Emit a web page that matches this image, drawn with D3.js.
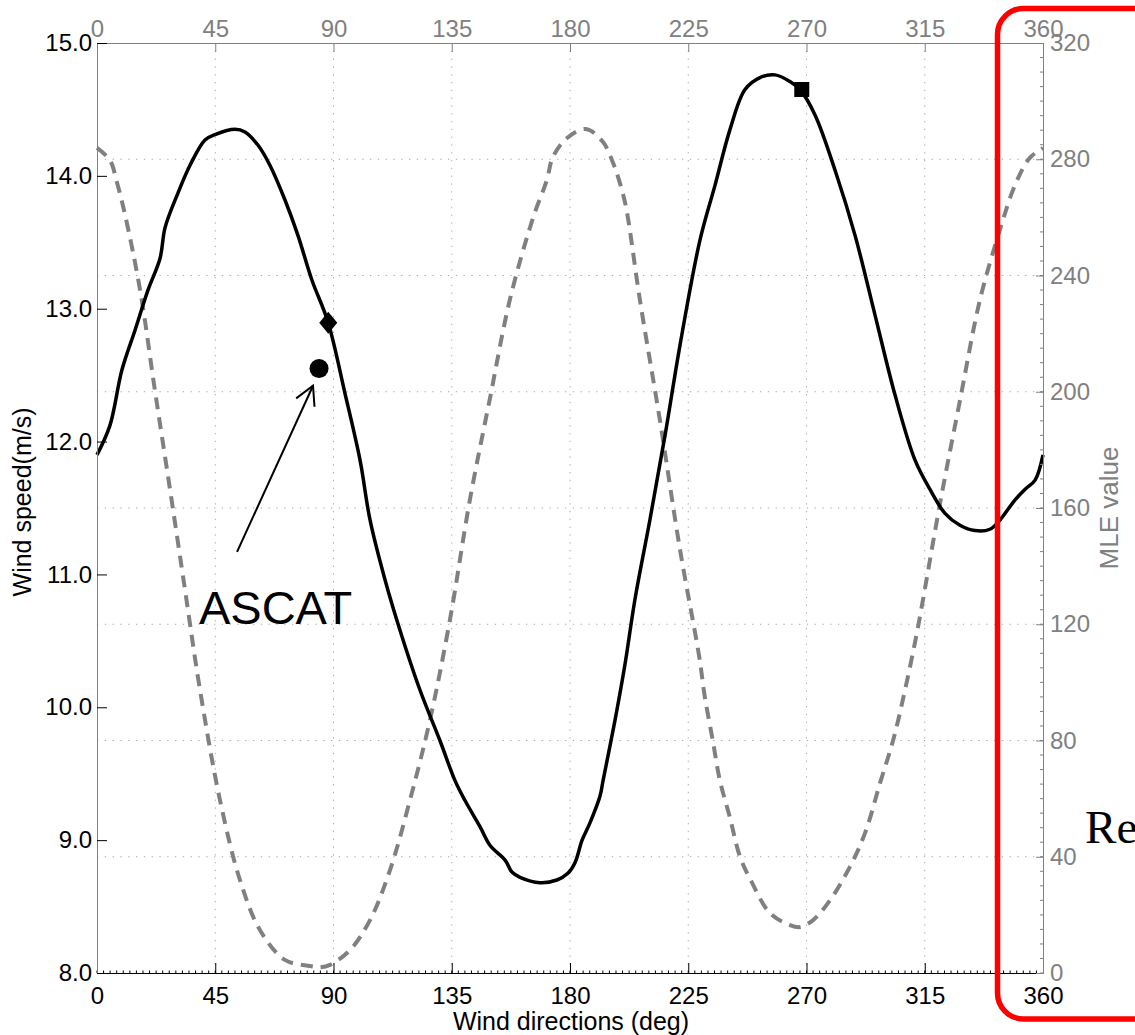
<!DOCTYPE html>
<html>
<head>
<meta charset="utf-8">
<script src="https://cdn.jsdelivr.net/npm/d3@7"></script>
<style>
  html, body { margin: 0; padding: 0; background: #fff; overflow: hidden; }
  svg { display: block; font-family: "Liberation Sans", Arial, Helvetica, sans-serif; }
</style>
</head>
<body>
<svg id="chart" width="1135" height="1035"></svg>
<script>
// ---- data ----
const directionTicks = [0, 45, 90, 135, 180, 225, 270, 315, 360];
const speedTicks = [8, 9, 10, 11, 12, 13, 14, 15];
const mleTicks = [0, 40, 80, 120, 160, 200, 240, 280, 320];

// wind speed (m/s) vs direction (deg)
const speedDir = [0,4.9,9.5,14.5,19.4,24,25.9,30.8,35.4,41.1,44.9,52.5,56.3,61.3,65.8,71.5,76.5,81.7,87.9,94.4,100.1,103.9,109.6,115.3,122.9,130.5,136.2,140,145.8,149.6,155.3,157.9,161,168.6,175,179.2,181.9,184.6,187.6,191.4,192.6,197.1,200.9,204.7,210.4,216.2,221.9,229.5,235.2,240.9,246.6,252.3,258,263.7,267.5,273.2,280.9,288.5,296.1,303.7,311.3,317,322.7,328.4,334.1,339.8,343.6,349.3,353.1,357,360];
const speedVal = [11.90,12.12,12.54,12.84,13.14,13.38,13.61,13.87,14.08,14.27,14.31,14.35,14.33,14.23,14.08,13.82,13.55,13.22,12.90,12.36,11.86,11.41,10.96,10.58,10.13,9.75,9.45,9.30,9.10,8.96,8.85,8.76,8.72,8.68,8.70,8.75,8.83,9.00,9.13,9.33,9.45,9.90,10.32,10.81,11.41,12.05,12.73,13.52,13.93,14.35,14.65,14.74,14.76,14.71,14.65,14.46,14.04,13.55,12.95,12.35,11.86,11.64,11.46,11.37,11.33,11.34,11.41,11.56,11.64,11.71,11.90];

// MLE value vs direction (deg)
const mleDir = [0,4.9,7.6,10.7,16.4,22,27.8,33.5,39.2,46.8,54.4,62,71.5,81,85,88.7,96.3,103.9,111.5,119.1,126.7,134.3,141.9,149.6,157.2,166,171.2,173.5,178.9,186,192.5,196.4,199,201.3,206.6,214.2,221.9,229.2,231.3,234.3,237,240.8,244.7,249.3,256.1,263.7,267.5,272.5,279,286.5,292.3,298,303,307.5,312,314.3,320.9,328.4,336,343.6,349.3,354.9,360];
const mleVal = [283.9,279.7,272,260.8,235,200.7,166.3,131.8,97.4,59.5,32,14.8,4.5,2.4,2.0,2.8,7.9,18.2,35.4,59.5,87,121.5,162.8,198,232,260,272.9,280.8,287.3,290.4,286,278.7,271.8,263.6,231.6,190.3,145.5,108.7,95,80.2,66.4,53.7,40,31,20.6,16.5,15.8,18.2,25.1,36.5,48.2,65.4,80.2,97.4,117,128.3,162,197,231.6,255.7,271,280.4,283.9];

// markers: [direction, speed]
const diamondPt = [88.0, 12.895];
const circlePt = [84.5, 12.55];
const squarePt = [268.2, 14.65];

// annotation (data units)
const arrowFrom = [53.3, 11.17];
const arrowTo = [82.2, 12.42];
const ascatLabel = {text: "ASCAT", dir: 38.8, speed: 10.63};
const rejLabel = {text: "Rejected", dir: 376, speed: 8.98};

// ---- layout ----
const L = 97, R = 1043, T = 43, B = 973;
const svg = d3.select("#chart");
const x = d3.scaleLinear().domain([0, 360]).range([L, R]);
const yL = d3.scaleLinear().domain([8, 15]).range([B, T]);
const yR = d3.scaleLinear().domain([0, 320]).range([B, T]);
const GREY = "#808080";

// grid
const grid = svg.append("g").attr("stroke", "#a8a8a8").attr("stroke-width", 1).attr("stroke-dasharray", "1.3,6.5");
grid.selectAll("line.v").data(directionTicks.slice(1, -1)).join("line")
  .attr("x1", d => x(d)).attr("x2", d => x(d)).attr("y1", T).attr("y2", B);
grid.selectAll("line.h").data(mleTicks.slice(1, -1)).join("line")
  .attr("x1", L).attr("x2", R).attr("y1", d => yR(d)).attr("y2", d => yR(d));

// curves
const lineSpeed = d3.line().x(d => x(d[0])).y(d => yL(d[1])).curve(d3.curveCatmullRom.alpha(0.5));
const lineMle = d3.line().x(d => x(d[0])).y(d => yR(d[1])).curve(d3.curveCatmullRom.alpha(0.5));

svg.append("path").datum(mleDir.map((d, i) => [d, mleVal[i]]))
  .attr("d", lineMle).attr("fill", "none").attr("stroke", GREY)
  .attr("stroke-width", 4).attr("stroke-dasharray", "12,8");

svg.append("path").datum(speedDir.map((d, i) => [d, speedVal[i]]))
  .attr("d", lineSpeed).attr("fill", "none").attr("stroke", "#000")
  .attr("stroke-width", 3.5).attr("stroke-linejoin", "round");

// axes
function styleAxis(g, color, size) {
  g.selectAll("text").attr("fill", color).style("font-size", size + "px")
    .style("font-family", '"Liberation Sans", Arial, Helvetica, sans-serif');
  g.selectAll("line").attr("stroke", color);
}
const gTop = svg.append("g").attr("transform", `translate(0,${T})`)
  .call(d3.axisTop(x).tickValues(directionTicks).tickSizeInner(-9).tickSizeOuter(0).tickPadding(6).tickFormat(d3.format("d")));
styleAxis(gTop, GREY, 24);
gTop.select(".domain").attr("stroke", GREY);

const gBot = svg.append("g").attr("transform", `translate(0,${B})`)
  .call(d3.axisBottom(x).tickValues(directionTicks).tickSizeInner(-10).tickSizeOuter(0).tickPadding(14).tickFormat(d3.format("d")));
styleAxis(gBot, "#000", 24);
gBot.select(".domain").attr("stroke", "#000");
// minor ticks bottom
svg.append("g").selectAll("line").data(d3.range(0, 360, 2.5)).join("line")
  .attr("x1", d => x(d)).attr("x2", d => x(d)).attr("y1", B).attr("y2", B - 2.5)
  .attr("stroke", "#000").attr("stroke-width", 1);

const gLeft = svg.append("g").attr("transform", `translate(${L},0)`)
  .call(d3.axisLeft(yL).tickValues(speedTicks).tickSizeInner(-10).tickSizeOuter(0).tickPadding(5).tickFormat(d3.format(".1f")));
styleAxis(gLeft, "#000", 24);
gLeft.select(".domain").attr("stroke", GREY);

const gRight = svg.append("g").attr("transform", `translate(${R},0)`)
  .call(d3.axisRight(yR).tickValues(mleTicks).tickSizeInner(-7).tickSizeOuter(0).tickPadding(7).tickFormat(d3.format("d")));
styleAxis(gRight, GREY, 24);
gRight.select(".domain").attr("stroke", GREY);
svg.append("g").selectAll("line").data(d3.range(0, 320, 5)).join("line")
  .attr("x1", R).attr("x2", R - 3).attr("y1", d => yR(d)).attr("y2", d => yR(d))
  .attr("stroke", GREY).attr("stroke-width", 1);

// axis titles
svg.append("text").attr("x", 571).attr("y", 1030).attr("text-anchor", "middle")
  .style("font-size", "25px").attr("fill", "#000").text("Wind directions (deg)");
svg.append("text").attr("transform", `translate(22,${(T + B) / 2 - 6}) rotate(-90)`).attr("dy", "0.35em")
  .attr("text-anchor", "middle").style("font-size", "25px").attr("fill", "#000").text("Wind speed(m/s)");
svg.append("text").attr("transform", `translate(1109,${(T + B) / 2}) rotate(-90)`).attr("dy", "0.35em")
  .attr("text-anchor", "middle").style("font-size", "26px").attr("fill", GREY).text("MLE value");

// markers
svg.append("path").attr("transform", `translate(${x(diamondPt[0])},${yL(diamondPt[1])})`)
  .attr("d", "M0,-11L9,0L0,11L-9,0Z").attr("fill", "#000");
svg.append("circle").attr("cx", x(circlePt[0])).attr("cy", yL(circlePt[1])).attr("r", 9.5).attr("fill", "#000");
svg.append("rect").attr("x", x(squarePt[0]) - 7.5).attr("y", yL(squarePt[1]) - 7.5)
  .attr("width", 15).attr("height", 15).attr("fill", "#000");

// arrow annotation
const ax0 = x(arrowFrom[0]), ay0 = yL(arrowFrom[1]), ax1 = x(arrowTo[0]), ay1 = yL(arrowTo[1]);
svg.append("line").attr("x1", ax0).attr("y1", ay0).attr("x2", ax1).attr("y2", ay1)
  .attr("stroke", "#000").attr("stroke-width", 2);
const ang = Math.atan2(ay0 - ay1, ax0 - ax1);
const headLen = 21, headAng = 0.5;
const hp = [[ax1 + headLen * Math.cos(ang - headAng), ay1 + headLen * Math.sin(ang - headAng)],
            [ax1, ay1],
            [ax1 + headLen * Math.cos(ang + headAng), ay1 + headLen * Math.sin(ang + headAng)]];
svg.append("path").attr("d", d3.line()(hp)).attr("fill", "none").attr("stroke", "#000").attr("stroke-width", 2);

svg.append("text").attr("x", x(ascatLabel.dir)).attr("y", yL(ascatLabel.speed))
  .style("font-size", "47px").attr("fill", "#000").text(ascatLabel.text);

svg.append("text").attr("x", x(rejLabel.dir)).attr("y", yL(rejLabel.speed))
  .style("font-size", "47px").style("font-family", '"Liberation Serif", "Times New Roman", serif')
  .attr("fill", "#000").text(rejLabel.text);

// red highlight box
svg.append("rect").attr("x", 997.5).attr("y", 8.5).attr("width", 220).attr("height", 1010.5)
  .attr("rx", 26).attr("ry", 26).attr("fill", "none").attr("stroke", "#ff0000").attr("stroke-width", 5.5);
</script>
</body>
</html>
